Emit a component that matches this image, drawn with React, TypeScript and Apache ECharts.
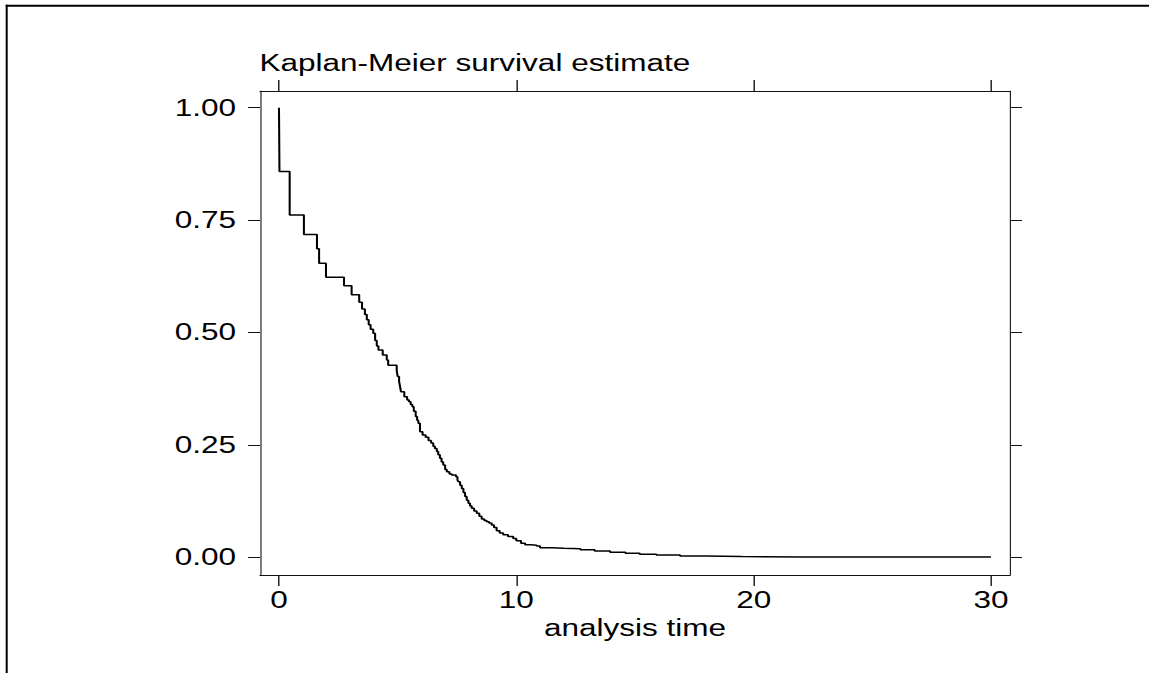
import React, { useEffect, useRef } from "react";
import * as echarts from "echarts";

// Kaplan-Meier estimate: time of each step and survival after it
const times: number[] = [
  0, 0.02, 0.45, 1.05, 1.6, 1.69, 1.98, 2.74, 3.06, 3.38,
  3.5, 3.62, 3.7, 3.78, 3.86, 3.97, 4.05, 4.12, 4.19, 4.37,
  4.54, 4.6, 4.96, 5.0, 5.06, 5.1, 5.14, 5.28, 5.4, 5.48,
  5.55, 5.62, 5.68, 5.76, 5.82, 5.87, 5.94, 6.05, 6.18, 6.3,
  6.41, 6.5, 6.57, 6.65, 6.71, 6.78, 6.85, 6.92, 7.0, 7.07,
  7.18, 7.28, 7.46, 7.52, 7.56, 7.63, 7.7, 7.77, 7.84, 7.91,
  7.98, 8.05, 8.12, 8.22, 8.33, 8.44, 8.54, 8.65, 8.75, 8.85,
  8.96, 9.06, 9.17, 9.3, 9.45, 9.65, 9.87, 10.0, 10.2, 10.37,
  10.6, 10.86, 11.0, 11.5, 12.0, 12.7, 13.3, 13.95, 14.6, 15.2,
  15.9, 16.9, 18.0, 19.5, 22.0, 30.0,
];
const survival: number[] = [
  1.0, 0.858, 0.761, 0.718, 0.686, 0.654, 0.623, 0.604, 0.584, 0.567,
  0.552, 0.54, 0.528, 0.517, 0.507, 0.498, 0.482, 0.47, 0.461, 0.45,
  0.439, 0.427, 0.415, 0.402, 0.391, 0.38, 0.368, 0.357, 0.35, 0.346,
  0.34, 0.335, 0.325, 0.313, 0.305, 0.298, 0.279, 0.272, 0.267, 0.26,
  0.254, 0.247, 0.242, 0.235, 0.228, 0.22, 0.212, 0.205, 0.195, 0.19,
  0.185, 0.183, 0.179, 0.172, 0.168, 0.16, 0.153, 0.144, 0.135, 0.127,
  0.12, 0.114, 0.109, 0.103, 0.098, 0.091, 0.085, 0.082, 0.079, 0.076,
  0.072, 0.066, 0.059, 0.054, 0.05, 0.046, 0.042, 0.037, 0.031, 0.028,
  0.027, 0.025, 0.021, 0.02, 0.019, 0.017, 0.014, 0.011, 0.009, 0.007,
  0.005, 0.003, 0.0015, 0.0008, 0.0004, 0.0002,
];
const xTicks: number[] = [0, 10, 20, 30];
const yTicks: number[] = [0, 0.25, 0.5, 0.75, 1.0];
const titleText = "Kaplan-Meier survival estimate";
const xName = "analysis time";

// the reference is horizontally stretched; reproduce that with a CSS scale
const SX = 1.37;
const W = 1149 / SX;
const H = 673;
const FONT = "Liberation Sans, Arial, sans-serif";

export default function App() {
  const ref = useRef<HTMLDivElement>(null);

  useEffect(() => {
    document.body.style.margin = "0";
    if (!ref.current) return;
    const chart = echarts.init(ref.current, null, { renderer: "svg", width: W, height: H });
    const data = times.map((t, i) => [t, survival[i]]);
    const lineCol = "#111";
    const baseX = {
      type: "value",
      min: -0.8,
      max: 30.8,
      splitLine: { show: false },
      axisLine: { show: true, onZero: false, lineStyle: { color: lineCol, width: 1 } },
    };
    const baseY = {
      type: "value",
      min: -0.0394,
      max: 1.037,
      splitLine: { show: false },
      axisLine: { show: true, onZero: false, lineStyle: { color: lineCol, width: 1 / SX * 1.1 } },
    };
    chart.setOption({
      animation: false,
      backgroundColor: "#fff",
      textStyle: { fontFamily: FONT },
      grid: { left: 260 / SX, right: W - 1010 / SX, top: 91, bottom: H - 575, containLabel: false },
      xAxis: [
        {
          ...baseX,
          position: "bottom",
          axisTick: { show: true, inside: false, length: 11, customValues: xTicks, lineStyle: { color: lineCol } },
          axisLabel: {
            show: true,
            customValues: xTicks,
            margin: 14,
            color: "#000",
            fontSize: 23,
            fontFamily: FONT,
            formatter: (v: number) => String(v),
          },
          name: xName,
          nameLocation: "middle",
          nameGap: 42,
          nameTextStyle: { color: "#000", fontSize: 23, fontFamily: FONT },
        },
        {
          ...baseX,
          position: "top",
          axisTick: { show: true, inside: false, length: 11, customValues: xTicks, lineStyle: { color: lineCol } },
          axisLabel: { show: false },
        },
      ],
      yAxis: [
        {
          ...baseY,
          position: "left",
          axisTick: { show: true, inside: false, length: 12 / SX, customValues: yTicks, lineStyle: { color: lineCol } },
          axisLabel: {
            show: true,
            customValues: yTicks,
            margin: 17.5,
            color: "#000",
            fontSize: 23,
            fontFamily: FONT,
            formatter: (v: number) => v.toFixed(2),
          },
        },
        {
          ...baseY,
          position: "right",
          axisTick: { show: true, inside: false, length: 12 / SX, customValues: yTicks, lineStyle: { color: lineCol } },
          axisLabel: { show: false },
        },
      ],
      series: [
        {
          type: "line",
          step: "end",
          data,
          xAxisIndex: 0,
          yAxisIndex: 0,
          showSymbol: false,
          symbol: "none",
          lineStyle: { color: "#000", width: 1.5 },
          silent: true,
        },
      ],
      graphic: [
        {
          type: "text",
          x: 259.5 / SX,
          y: 63.5,
          style: {
            text: titleText,
            fill: "#000",
            font: `23px ${FONT}`,
            textAlign: "left",
            textVerticalAlign: "middle",
          },
        },
        {
          type: "line",
          shape: { x1: 4.2, y1: 5.7, x2: W, y2: 5.7 },
          style: { stroke: "#000", lineWidth: 2 },
        },
        {
          type: "line",
          shape: { x1: 6.7 / SX, y1: 4.7, x2: 6.7 / SX, y2: H },
          style: { stroke: "#000", lineWidth: 2 / SX },
        },
      ],
    });
    return () => chart.dispose();
  }, []);

  return (
    <div
      ref={ref}
      style={{
        position: "fixed",
        left: 0,
        top: 0,
        width: W,
        height: H,
        transform: `scaleX(${SX})`,
        transformOrigin: "0 0",
        background: "#fff",
      }}
    />
  );
}
